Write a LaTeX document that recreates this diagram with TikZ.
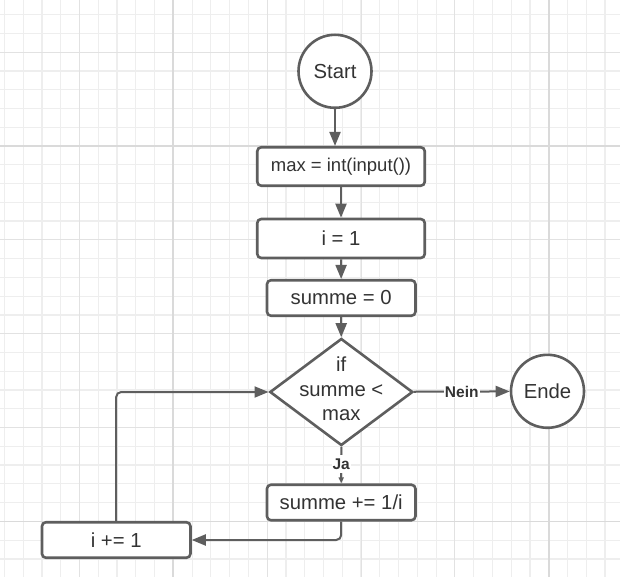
\documentclass[tikz,border=0pt]{standalone}
\usepackage{fontspec}
\setmainfont{Liberation Sans}
\usepackage{tikz}
\usetikzlibrary{shapes.geometric,arrows.meta}
\definecolor{linegray}{HTML}{5E5E5E}
\definecolor{textgray}{HTML}{333333}
\definecolor{gridminor}{HTML}{EEEEEE}
\definecolor{gridmid}{HTML}{E2E2E2}
\definecolor{gridmajor}{HTML}{DADADA}

\begin{document}
\begin{tikzpicture}[x=1pt,y=-1pt,
    term/.style={circle,draw=linegray,line width=2.6pt,fill=white,text=textgray,minimum size=73pt,inner sep=0pt,font=\fontsize{20.3}{24}\selectfont},
    proc/.style={rectangle,rounded corners=4pt,draw=linegray,line width=2.6pt,fill=white,text=textgray,minimum width=148.5pt,minimum height=35.5pt,inner sep=0pt,font=\fontsize{20.3}{24}\selectfont},
    decision/.style={diamond,draw=linegray,line width=2.6pt,fill=white,minimum width=143pt,minimum height=107pt,inner sep=0pt},
    flow/.style={draw=linegray,line width=2pt,-{Triangle[length=14pt,width=11pt]}},
    flowsmall/.style={draw=linegray,line width=2pt,-{Triangle[length=6pt,width=5pt]}},
    edgelabel/.style={fill=white,inner sep=1pt,text=textgray,font=\fontsize{15.5}{18}\selectfont\bfseries}]
            \useasboundingbox (0,0) rectangle (620,577);
            \fill[white] (0,0) rectangle (620,577);
            \begin{scope}
              \clip (0,0) rectangle (620,577);
              \foreach \i in {0,...,32} \draw[gridminor,line width=1.2pt] ({4.4+18.77*\i},0) -- ({4.4+18.77*\i},577);
              \foreach \j in {0,...,29} \draw[gridminor,line width=1.2pt] (0,{14.6+18.77*\j}) -- (620,{14.6+18.77*\j});
              \foreach \i in {0,...,5} \draw[gridmid,line width=1pt] ({79.5+93.85*\i},0) -- ({79.5+93.85*\i},577);
              \foreach \j in {0,...,5} \draw[gridmid,line width=1pt] (0,{52.1+93.85*\j}) -- (620,{52.1+93.85*\j});
              \foreach \i in {0,1} \draw[gridmajor,line width=1.8pt] ({173.3+375.4*\i},0) -- ({173.3+375.4*\i},577);
              \foreach \j in {0,1} \draw[gridmajor,line width=1.8pt] (0,{146+375.4*\j}) -- (620,{146+375.4*\j});
            \end{scope}
            \node[term] (start) at (335,71.3) {Start};
            \node[proc,minimum width=167.5pt,minimum height=38.5pt,font=\fontsize{18.5}{22}\selectfont] (maxin) at (341,166.5) {max = int(input())};
            \node[proc,minimum width=167.5pt,minimum height=39pt] (iinit) at (341,238.5) {i = 1};
            \node[proc] (suminit) at (341.2,298) {summe = 0};
            \node[decision,label={[align=center,yshift=3pt,text=textgray,font=\fontsize{20.3}{24.5}\selectfont]center:if\\summe <\\max}] (check) at (341.3,392) {};
            \node[term] (ende) at (547.5,391.3) {Ende};
            \node[proc] (sumadd) at (341.2,502.5) {summe += 1/i};
            \node[proc] (iadd) at (116.2,540) {i += 1};
            \draw[flow] (start) -- (start |- maxin.north);
            \draw[flow] (maxin) -- (iinit);
            \draw[flow] (iinit) -- (suminit);
            \draw[flow] (suminit) -- (check);
            \draw[flow] (check) -- node[edgelabel]{Nein} (ende);
            \draw[flowsmall] (check) -- node[edgelabel,inner ysep=3.5pt,yshift=1pt]{Ja} (sumadd);
            \draw[flow,rounded corners=5pt] (sumadd.south) |- (iadd.east);
            \draw[flow,rounded corners=5pt] (iadd.north) |- (check.west);
          \end{tikzpicture}
\end{document}
